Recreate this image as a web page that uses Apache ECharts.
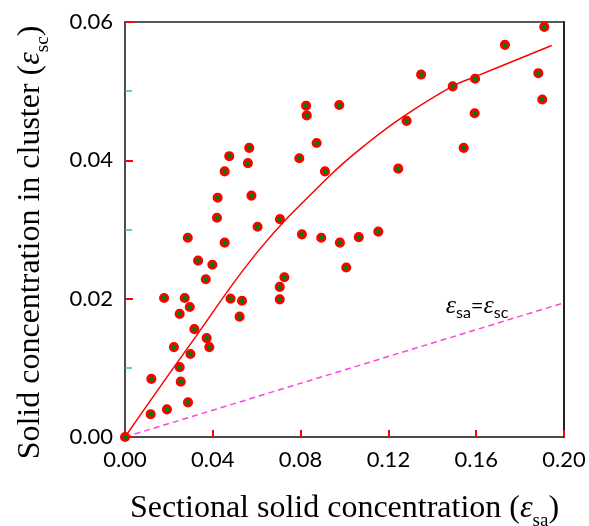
<!DOCTYPE html>
<html>
<head>
<meta charset="utf-8">
<script src="https://cdn.jsdelivr.net/npm/echarts@6/dist/echarts.min.js"></script>
<style>html,body{margin:0;padding:0;background:#fff;}#c{width:589px;height:526px;}</style>
</head>
<body>
<div id="c"></div>
<script>
// Measured points: sectional solid concentration (x) vs solid concentration in cluster (y)
var pointsX = [0, 0.0117, 0.0120, 0.0178, 0.0191, 0.0223, 0.0249, 0.0249, 0.0254, 0.0272,
  0.0286, 0.0287, 0.0295, 0.0298, 0.0316, 0.0333, 0.0368, 0.0372, 0.0384, 0.0398,
  0.0419, 0.0422, 0.0454, 0.0454, 0.0475, 0.0481, 0.0522, 0.0533, 0.0560, 0.0566,
  0.0576, 0.0604, 0.0705, 0.0705, 0.0706, 0.0726, 0.0794, 0.0806, 0.0825, 0.0828,
  0.0873, 0.0894, 0.0911, 0.0976, 0.0979, 0.1008, 0.1065, 0.1154, 0.1245, 0.1283,
  0.1349, 0.1493, 0.1543, 0.1593, 0.1595, 0.1731, 0.1883, 0.1901, 0.1910];
var pointsY = [0, 0.0033, 0.0084, 0.0201, 0.0040, 0.0130, 0.0101, 0.0178, 0.0080, 0.0201,
  0.0288, 0.0050, 0.0188, 0.0120, 0.0156, 0.0255, 0.0228, 0.0143, 0.0130, 0.0249,
  0.0317, 0.0346, 0.0384, 0.0281, 0.0406, 0.0200, 0.0174, 0.0197, 0.0396, 0.0418,
  0.0349, 0.0304, 0.0217, 0.0199, 0.0315, 0.0231, 0.0403, 0.0293, 0.0479, 0.0465,
  0.0425, 0.0288, 0.0384, 0.0480, 0.0281, 0.0245, 0.0289, 0.0297, 0.0388, 0.0457,
  0.0524, 0.0507, 0.0418, 0.0468, 0.0518, 0.0567, 0.0526, 0.0488, 0.0593];
// Fitted curve
var fitX = [0, 0.0311, 0.0615, 0.0934, 0.1101, 0.1271, 0.1491, 0.1596, 0.1944];
var fitY = [0, 0.0140, 0.0272, 0.0378, 0.0424, 0.0464, 0.0507, 0.0521, 0.0566];
// Reference dashed line
var refX = [0, 0.20];
var refY = [0, 0.0194];
var xTicks = ['0.00', '0.04', '0.08', '0.12', '0.16', '0.20'];
var yTicks = ['0.00', '0.02', '0.04', '0.06'];

function zip(a, b) { return a.map(function (v, i) { return [v, b[i]]; }); }

var serif = 'Liberation Serif';
var gridTop = 22, gridBottom = 89, gridLeft = 125, gridRight = 25, W = 589, H = 526;
var titleRich = {
  t: { fontFamily: serif, fontSize: 32, lineHeight: 44, color: '#000' },
  e: { fontFamily: serif, fontStyle: 'italic', fontSize: 32, lineHeight: 44, color: '#000' },
  s: { fontFamily: serif, fontSize: 19, lineHeight: 19, verticalAlign: 'bottom', color: '#000' }
};
function helperAxis(extra) {
  return Object.assign({
    type: 'value', axisLabel: { show: false }, splitLine: { show: false },
    axisLine: { show: false, onZero: false }, axisTick: { show: false }
  }, extra);
}
var redTick = { show: true, inside: false, length: 7, lineStyle: { color: '#ff0000', width: 2 } };
var chart = echarts.init(document.getElementById('c'), null, { renderer: 'canvas' });
chart.setOption({
  animation: false,
  backgroundColor: '#fff',
  grid: [
    { left: gridLeft, right: gridRight, top: gridTop, bottom: gridBottom, containLabel: false, outerBoundsMode: 'none', show: false },
    // helper grid whose right edge is the main left axis: its ticks point into the plot
    { left: 0, right: W - gridLeft, top: gridTop, bottom: gridBottom, containLabel: false, outerBoundsMode: 'none', show: false },
    // helper grid whose top edge is the main bottom axis: its ticks point into the plot
    { left: gridLeft, right: gridRight, top: H - gridBottom, bottom: 0, containLabel: false, outerBoundsMode: 'none', show: false }
  ],
  xAxis: [{
    type: 'value', min: 0, max: 0.2, interval: 0.04, gridIndex: 0,
    axisLine: { show: true, onZero: false, lineStyle: { color: '#111', width: 1.5 } },
    axisTick: { show: false },
    splitLine: { show: false },
    axisLabel: { margin: 12, fontFamily: 'Lato', fontSize: 22, color: '#000',
      formatter: function (v) { return xTicks[Math.round(v / 0.04)]; } },
    name: '{t|Sectional solid concentration (}{e|ε}{s|sa}{t|)}',
    nameLocation: 'middle', nameGap: 50,
    nameTextStyle: { rich: titleRich }
  },
  helperAxis({ gridIndex: 0, min: 0, max: 0.2, position: 'top',
    axisLine: { show: true, onZero: false, lineStyle: { color: '#222', width: 1.5 } } }),
  helperAxis({ gridIndex: 1, min: 0, max: 1, show: false }),
  helperAxis({ gridIndex: 2, min: 0, max: 0.2, interval: 0.04, position: 'top', axisTick: redTick })],
  yAxis: [{
    type: 'value', min: 0, max: 0.06, interval: 0.02, gridIndex: 0,
    axisLine: { show: true, onZero: false, lineStyle: { color: '#111', width: 1.5 } },
    axisTick: { show: false },
    splitLine: { show: false },
    axisLabel: { margin: 12, fontFamily: 'Lato', fontSize: 22, color: '#000',
      formatter: function (v) { return yTicks[Math.round(v / 0.02)]; } },
    name: '{t|Solid concentration in cluster (}{e|ε}{s|sc}{t|)}',
    nameLocation: 'middle', nameGap: 72, nameRotate: 90,
    nameTextStyle: { rich: titleRich, padding: [0, 26, 0, 0] }
  },
  helperAxis({ gridIndex: 0, min: 0, max: 0.06, position: 'right',
    axisLine: { show: true, onZero: false, lineStyle: { color: '#222', width: 2 } } }),
  helperAxis({ gridIndex: 1, min: 0, max: 0.06, interval: 0.02, position: 'right', axisTick: { show: true, inside: false, length: 8, lineStyle: { color: '#ff0000', width: 2 } },
    minorTick: { show: true, splitNumber: 2, length: 7, lineStyle: { color: '#33cc77', width: 1.5 } } }),
  helperAxis({ gridIndex: 2, min: 0, max: 1, show: false })],
  series: [
    {
      type: 'line', data: zip(refX, refY), showSymbol: false, silent: true,
      lineStyle: { color: '#ff44dd', width: 1.5, type: [6, 4] },
      markPoint: {
        symbol: 'circle', symbolSize: 0, silent: true,
        label: { show: true, position: 'inside',
          formatter: '{e|ε}{s|sa}{q|=}{e|ε}{s|sc}',
          rich: {
            e: { fontFamily: serif, fontStyle: 'italic', fontSize: 26, lineHeight: 30, color: '#000' },
            s: { fontFamily: 'Lato', fontSize: 16, lineHeight: 18, verticalAlign: 'bottom', color: '#000' },
            q: { fontFamily: 'Lato', fontSize: 22, lineHeight: 30, color: '#000' }
          } },
        data: [{ coord: [0.1604, 0.0189] }]
      }
    },
    {
      type: 'line', data: zip(fitX, fitY), showSymbol: false, smooth: 0.4, silent: true,
      lineStyle: { color: '#ff0000', width: 1.5 }
    },
    {
      type: 'scatter', data: zip(pointsX, pointsY), symbol: 'circle', symbolSize: 7.5, clip: false, z: 6,
      itemStyle: { color: '#008000', borderColor: '#ff0000', borderWidth: 2.6, opacity: 1 }
    }
  ]
});
</script>
</body>
</html>
